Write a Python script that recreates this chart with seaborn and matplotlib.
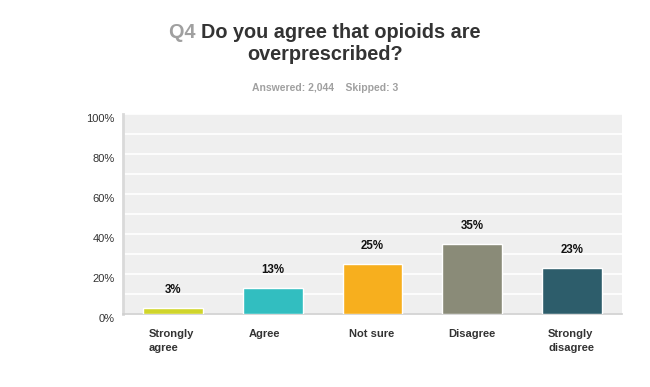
import matplotlib
matplotlib.use("Agg")
import matplotlib.pyplot as plt
import matplotlib.transforms as mtransforms
import seaborn as sns
import pandas as pd
from matplotlib.ticker import MultipleLocator, FuncFormatter

categories = ["Strongly\nagree", "Agree", "Not sure", "Disagree", "Strongly\ndisagree"]
values = [3, 13, 25, 35, 23]
value_labels = ["3%", "13%", "25%", "35%", "23%"]
colors = ["#D0D52B", "#32BEC0", "#F7AF1E", "#8A8B78", "#2D5D6B"]
title_prefix = "Q4"
title_line1 = "Do you agree that opioids are"
title_line2 = "overprescribed?"
subtitle = "Answered: 2,044    Skipped: 3"

sns.set_theme(style="white")
plt.rcParams["font.family"] = ["Liberation Sans", "DejaVu Sans"]

df = pd.DataFrame({"cat": categories, "val": values})

fig = plt.figure(figsize=(6.5, 3.87), dpi=100)
ax = fig.add_axes([123/650, 1 - 314/387, (622-123)/650, 200/387])
ax.set_facecolor("#EFEFEF")

sns.barplot(data=df, x="cat", y="val", hue="cat", palette=colors, legend=False,
            width=0.6, saturation=1, ax=ax, zorder=3)

ax.set_ylim(0, 100)
ax.set_xlim(-0.5, 4.5)
ax.yaxis.set_major_locator(MultipleLocator(20))
ax.yaxis.set_minor_locator(MultipleLocator(10))
ax.yaxis.set_major_formatter(FuncFormatter(lambda v, p: f"{int(v)}%"))
ax.grid(axis="y", which="both", color="white", linewidth=1.2, zorder=1)
ax.set_axisbelow(True)
for s in ["top", "right"]:
    ax.spines[s].set_visible(False)
ax.spines["left"].set_color("#D9D9D9")
ax.spines["left"].set_linewidth(2)
ax.spines["bottom"].set_color("#CFCFCF")
ax.spines["bottom"].set_linewidth(1.2)
ax.set_xlabel("")
ax.set_ylabel("")
ax.tick_params(axis="y", which="both", length=0, labelsize=8, labelcolor="#333333", pad=6)
ax.tick_params(axis="x", length=0)

offset = mtransforms.ScaledTranslation(0, -4/100, fig.dpi_scale_trans)
for lab in ax.get_yticklabels():
    lab.set_transform(lab.get_transform() + offset)

ax.set_xticks(range(len(categories)))
ax.set_xticklabels([])
for i, c in enumerate(categories):
    ax.text(i - 0.24, -7.5, c, ha="left", va="top", fontsize=8, fontweight="bold",
            color="#333333", linespacing=1.45, clip_on=False)

for i, (v, lab) in enumerate(zip(values, value_labels)):
    ax.text(i, v + 6, lab, ha="center", va="bottom", fontsize=8.3, fontweight="bold",
            color="#111111")

fig.canvas.draw()
r = fig.canvas.get_renderer()
tsize = 14.3
t1 = fig.text(0, 0, title_prefix + " ", fontsize=tsize, fontweight="bold", color="#A0A0A0")
t2 = fig.text(0, 0, title_line1, fontsize=tsize, fontweight="bold", color="#333333")
w1 = t1.get_window_extent(r).width
w2 = t2.get_window_extent(r).width
total = w1 + w2
x0 = (650 - total) / 2
y1 = 1 - 38/387
t1.set_position((x0/650, y1))
t2.set_position(((x0 + w1)/650, y1))
fig.text(0.5, 1 - 60/387, title_line2, ha="center", fontsize=tsize, fontweight="bold", color="#333333")
fig.text(0.5, 1 - 91/387, subtitle, ha="center", fontsize=7.5, fontweight="bold", color="#A0A0A0")

fig.savefig("out.png", dpi=100)
